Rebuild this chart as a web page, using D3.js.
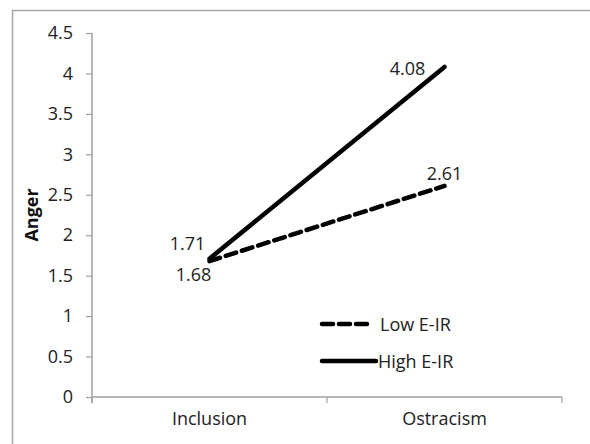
<!DOCTYPE html>
<html><head><meta charset="utf-8">
<script src="https://cdn.jsdelivr.net/npm/d3@7"></script>
<style>body{margin:0;background:#fff;} svg{display:block;}</style>
</head><body>
<svg id="c" width="590" height="444"></svg>
<script>
const categories = ["Inclusion", "Ostracism"];
const lowEIR = [1.68, 2.61];
const highEIR = [1.71, 4.08];
const yTicks = [0, 0.5, 1, 1.5, 2, 2.5, 3, 3.5, 4, 4.5];
const seriesNames = ["Low E-IR", "High E-IR"];
const yTitle = "Anger";

const svg = d3.select("#c");
const font = "'Open Sans', sans-serif";
const fs = 18;
const axisColor = "#a0a0a0";

// outer frame
svg.append("rect").attr("x", 12.5).attr("y", 10.5).attr("width", 600).attr("height", 460)
  .attr("fill", "none").attr("stroke", "#a6a6a6").attr("stroke-width", 1.5);

const x = d3.scaleBand().domain(categories).range([92, 562]);
const y = d3.scaleLinear().domain([0, 4.5]).range([397, 33]);
const cx = d => x(d) + x.bandwidth() / 2;

// y axis
const ya = svg.append("g").attr("transform", "translate(92,0)")
  .call(d3.axisLeft(y).tickValues(yTicks).tickSize(6).tickPadding(13).tickFormat(d3.format("")));
ya.select(".domain").attr("stroke", axisColor).attr("stroke-width", 1.5).attr("d", "M0,33V403");
ya.selectAll(".tick line").attr("stroke", axisColor).attr("stroke-width", 1.2);
ya.selectAll(".tick text").attr("font-family", font).attr("font-size", fs).attr("fill", "#222");

// x axis
const xa = svg.append("g").attr("transform", "translate(0,397)")
  .call(d3.axisBottom(x).tickSize(0).tickPadding(15));
xa.select(".domain").attr("stroke", axisColor).attr("stroke-width", 1.5).attr("d", "M92,0H562");
xa.selectAll(".tick text").attr("font-family", font).attr("font-size", fs).attr("fill", "#222");
// boundary ticks
const bounds = [x(categories[0]), x(categories[1]), x(categories[1]) + x.bandwidth()];
svg.append("g").selectAll("line").data(bounds).join("line")
  .attr("x1", d => d).attr("x2", d => d).attr("y1", 397).attr("y2", 403)
  .attr("stroke", axisColor).attr("stroke-width", 1.2);

// y title
svg.append("text").attr("transform", "translate(31,215) rotate(-90)")
  .attr("text-anchor", "middle").attr("dominant-baseline", "central").attr("font-family", font).attr("font-size", fs)
  .attr("font-weight", "bold").attr("fill", "#111").text(yTitle);

const line = d3.line().x((d, i) => cx(categories[i])).y(d => y(d));

svg.append("path").attr("d", line(lowEIR)).attr("fill", "none").attr("stroke", "#000")
  .attr("stroke-width", 4.5).attr("stroke-dasharray", "11,6").attr("stroke-linecap", "round");
svg.append("path").attr("d", line(highEIR)).attr("fill", "none").attr("stroke", "#000")
  .attr("stroke-width", 4.5).attr("stroke-linecap", "round");

// data labels
const lab = (t, xx, yy) => svg.append("text").attr("x", xx).attr("y", yy)
  .attr("text-anchor", "middle").attr("dominant-baseline", "central")
  .attr("font-family", font).attr("font-size", fs).attr("fill", "#222").text(t);
lab(highEIR[0].toFixed(2), cx(categories[0]) - 22, y(highEIR[0]) - 16);
lab(lowEIR[0].toFixed(2), cx(categories[0]) - 16, y(lowEIR[0]) + 13);
lab(highEIR[1].toFixed(2), cx(categories[1]) - 37, y(highEIR[1]) + 1);
lab(lowEIR[1].toFixed(2), cx(categories[1]), y(lowEIR[1]) - 13);

// legend
const leg = svg.append("g");
[[0, "11,6"], [1, null]].forEach(([i, dash], k) => {
  const yy = k === 0 ? 324 : 361;
  const ln = leg.append("line").attr("x1", 322).attr("x2", k === 0 ? 369 : 376)
    .attr("y1", yy).attr("y2", yy).attr("stroke", "#000").attr("stroke-width", 4.5)
    .attr("stroke-linecap", "round");
  if (dash) ln.attr("stroke-dasharray", dash);
  leg.append("text").attr("x", k === 0 ? 380 : 378).attr("y", yy).attr("dominant-baseline", "central")
    .attr("font-family", font).attr("font-size", fs).attr("fill", "#222").text(seriesNames[i]);
});
</script>
</body></html>
